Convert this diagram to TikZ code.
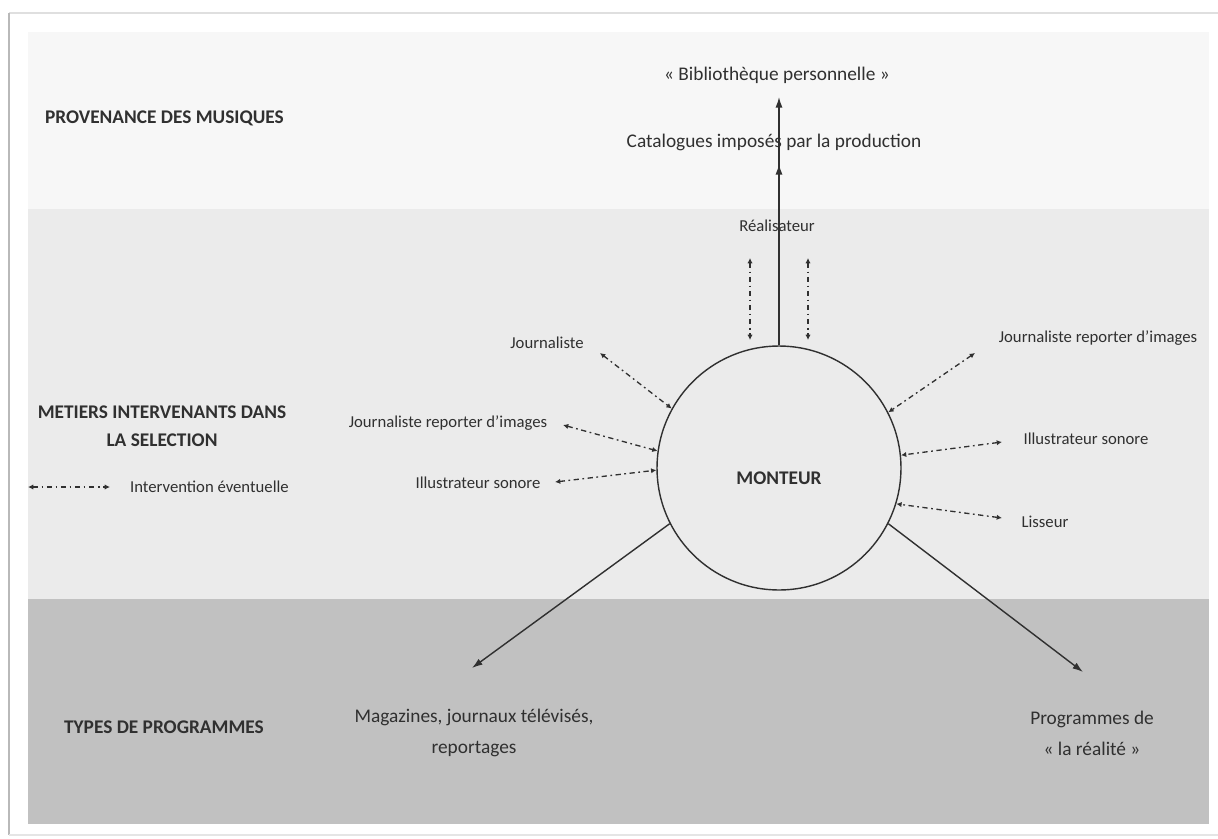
\documentclass[tikz,border=0pt]{standalone}
\usepackage{fontspec}
\setmainfont{Carlito}
\usetikzlibrary{arrows.meta}
\definecolor{bandA}{HTML}{F7F7F7}
\definecolor{bandB}{HTML}{EBEBEB}
\definecolor{bandC}{HTML}{C1C1C1}
\definecolor{ink}{HTML}{303030}
\begin{document}
\begin{tikzpicture}[x=0.02cm,y=-0.02cm,
 lbl/.style={font=\fontsize{9.5}{11}\selectfont, text=ink, inner sep=1pt},
 big/.style={font=\fontsize{11}{17.6}\selectfont, text=ink, align=center, inner sep=1pt},
 head/.style={font=\bfseries\fontsize{11}{16}\selectfont, text=ink, align=center, inner sep=1pt},
 solidarrow/.style={draw=ink, line width=0.8pt, -{Latex[length=6pt,width=4pt]}},
 optarrow/.style={draw=ink, line width=0.75pt, dash pattern=on 3pt off 2pt on 1pt off 2pt, {Latex[length=3pt,width=3pt]}-{Latex[length=3pt,width=3pt]}},
]
\useasboundingbox (0,0) rectangle (1218,839);
\fill[white] (0,0) rectangle (1218,839);
% frame
\draw[gray!25, line width=1pt] (9,13) -- (1218,13);
\draw[gray!55, line width=1.5pt] (9,13) -- (9,835);
\draw[gray!20, line width=1pt] (9,835) -- (1218,835);
% bands
\fill[bandA] (28,32) rectangle (1209,209);
\fill[bandB] (28,209) rectangle (1209,599);
\fill[bandC] (28,599) rectangle (1209,824);
% central circle
\node[circle, draw=ink, line width=0.8pt, minimum size=4.88cm, inner sep=0pt] (m) at (779,468) {};
\node[head] (mt) at (779,478) {MONTEUR};
% row headers
\node[head, anchor=west] (h1) at (43,118) {PROVENANCE DES MUSIQUES};
\node[head] (h2) at (162,426) {METIERS INTERVENANTS DANS\\LA SELECTION};
\node[head, anchor=west] (h3) at (62,727) {TYPES DE PROGRAMMES};
% legend
\coordinate (lg1) at (28,487);
\coordinate (lg2) at (110,487);
\draw[optarrow] (lg1) -- (lg2);
\node[lbl, anchor=west] (lgt) at (128,487) {Intervention éventuelle};
% top
\node[big] (bib) at (777,75) {« Bibliothèque personnelle »};
\node[big] (cat) at (774,142) {Catalogues imposés par la production};
\coordinate (tb) at (779,97);
\coordinate (tc) at (779,164);
\draw[solidarrow] (m.north) -- (tb);
\draw[solidarrow] (m.north) -- (tc);
% realisateur
\node[lbl] (real) at (777,226) {Réalisateur};
\coordinate (r1a) at (750,258);
\coordinate (r1b) at (750,340);
\coordinate (r2a) at (808,258);
\coordinate (r2b) at (808,340);
\draw[optarrow] (r1a) -- (r1b);
\draw[optarrow] (r2a) -- (r2b);
% left jobs
\node[lbl] (jl) at (547,343) {Journaliste};
\node[lbl] (jril) at (448,423) {Journaliste reporter d’images};
\node[lbl] (isl) at (478,483) {Illustrateur sonore};
\coordinate (a1) at (600,353);
\coordinate (a2) at (563,425);
\coordinate (a3) at (555,482);
\draw[optarrow] (a1) -- (m.151);
\draw[optarrow] (a2) -- (m.172);
\draw[optarrow] (a3) -- (m.181);
% right jobs
\node[lbl] (jrir) at (1098,338) {Journaliste reporter d’images};
\node[lbl] (isr) at (1086,439) {Illustrateur sonore};
\node[lbl] (lis) at (1045,522) {Lisseur};
\coordinate (b1) at (975,353);
\coordinate (b2) at (1002,442);
\coordinate (b3) at (1002,518);
\draw[optarrow] (b1) -- (m.27);
\draw[optarrow] (b2) -- (m.6);
\draw[optarrow] (b3) -- (m.-17);
% programme types
\coordinate (p1) at (472,668);
\coordinate (p2) at (1083,672);
\draw[solidarrow] (m.207) -- (p1);
\draw[solidarrow] (m.-27) -- (p2);
\node[big] (mag) at (474,733) {Magazines, journaux télévisés,\\reportages};
\node[big] (prog) at (1092,733) {Programmes de\\« la réalité »};
\end{tikzpicture}
\end{document}
